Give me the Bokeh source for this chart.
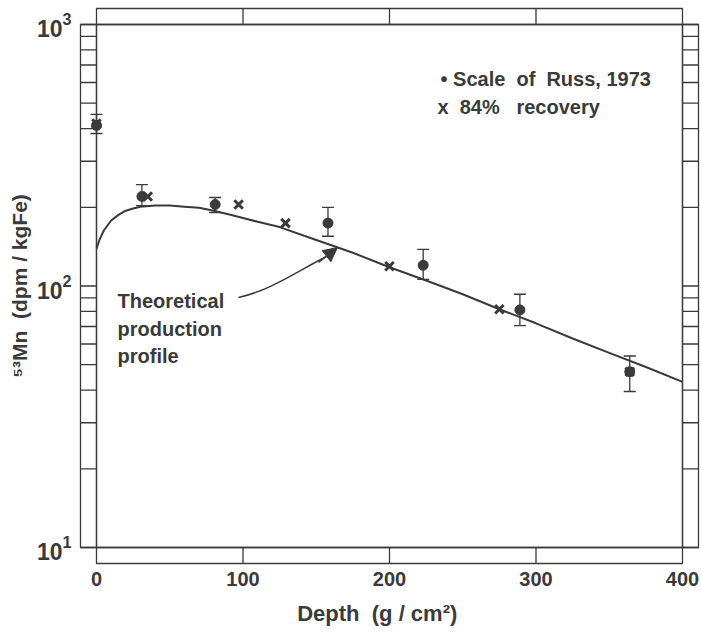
import math
from bokeh.plotting import figure
from bokeh.models import (Range1d, FixedTicker, LogTickFormatter, ColumnDataSource,
                          Whisker, TeeHead, Arrow, NormalHead)
from bokeh.embed import file_html
from bokeh.resources import INLINE
from bokeh.core.properties import value

# ---------------- data ----------------
russ_depth = [0, 31, 81, 158, 223, 289, 364]
russ_mn    = [411, 220, 205, 174, 120, 81, 47]
russ_low   = [383, 203, 191, 155, 106, 70.5, 39.5]
russ_high  = [453, 244, 218, 200, 138, 93, 54]

rec_depth  = [0, 35, 97, 129, 200, 275, 364]
rec_mn     = [418, 220, 205, 174, 119, 81.5, 47]

theory_depth = [0, 2, 5, 10, 15, 20, 25, 30, 40, 50, 60, 70, 80, 90, 100, 110,
                125, 150, 175, 200, 225, 250, 275, 300, 325, 350, 375, 400]
theory_mn    = [139, 150, 163, 178, 187, 194, 198, 201, 203, 203, 201, 199, 194, 188, 182, 176,
                168, 150, 134, 118, 105, 93, 81.5, 72, 63, 55.5, 49, 43]

x_ticks = [0, 100, 200, 300, 400]
y_ticks = [10, 100, 1000]
y_minor = [20, 30, 40, 50, 60, 70, 80, 90, 200, 300, 400, 500, 600, 700, 800, 900]

NB = "\u00a0"
legend_lines = ["\u2022" + NB + "Scale" + NB * 2 + "of" + NB * 2 + "Russ," + NB + "1973",
                "x" + NB * 2 + "84%" + NB * 3 + "recovery"]
note_lines = ["Theoretical", "production", "profile"]
x_title = "Depth" + NB * 2 + "(g" + NB + "/" + NB + "cm\u00b2)" + NB * 4
y_title = "\u2075\u00b3Mn" + NB * 2 + "(dpm" + NB + "/" + NB + "kgFe)"

# ---------------- geometry (pixels) ----------------
W, H = 701, 636
CL, CR, CT, CB = 96, 682, 24, 547     # inner plot box
S, PAD = 16, 2                        # ladder strip width, padding
INK = "#3a3a3a"
FONT = "Liberation Sans"

kx = (x_ticks[-1] - x_ticks[0]) / (CR - CL)
dec = (CB - CT) / (math.log10(y_ticks[-1]) - math.log10(y_ticks[0]))

def px2x(px):
    return x_ticks[0] + (px - CL) * kx

def py2y(py):
    return 10 ** (math.log10(y_ticks[-1]) - (py - CT) / dec)

p = figure(width=W, height=H,
           x_range=Range1d(px2x(CL - S - PAD), px2x(CR + S + PAD)),
           y_range=Range1d(py2y(CB + S + PAD), py2y(CT - S - PAD)),
           y_axis_type="log", toolbar_location=None, output_backend="svg",
           min_border_left=CL - S - PAD, min_border_right=W - (CR + S + PAD),
           min_border_top=CT - S - PAD, min_border_bottom=H - (CB + S + PAD))
p.outline_line_color = None
p.grid.visible = False
p.background_fill_color = "white"
p.border_fill_color = "white"

# axes: labels only (ladder rungs are drawn below)
xa = p.xaxis[0]
xa.ticker = FixedTicker(ticks=x_ticks, minor_ticks=[])
ya = p.yaxis[0]
ya.ticker = FixedTicker(ticks=y_ticks, minor_ticks=[])
ya.formatter = LogTickFormatter()
for ax in (xa, ya):
    ax.axis_line_color = None
    ax.major_tick_line_color = None
    ax.minor_tick_line_color = None
    ax.major_label_text_font = FONT
    ax.major_label_text_font_style = "bold"
    ax.major_label_text_font_size = "20px"
    ax.major_label_text_color = INK
    ax.axis_label_text_font = FONT
    ax.axis_label_text_font_style = "bold"
    ax.axis_label_text_font_size = "22px"
    ax.axis_label_text_color = INK
ya.major_label_text_font_size = "23px"
ya.axis_label_text_font_size = "21px"
xa.major_label_standoff = 0
xa.axis_label = x_title
xa.axis_label_standoff = 12
ya.major_label_standoff = 1
ya.axis_label = y_title
ya.axis_label_standoff = 3

# ladder boxes
x_lo, x_hi = x_ticks[0], x_ticks[-1]
y_lo, y_hi = y_ticks[0], y_ticks[-1]
xl_out, xr_out = px2x(CL - S), px2x(CR + S)
yt_out, yb_out = py2y(CT - S), py2y(CB + S)
p.quad(left=[x_lo, xl_out, x_hi, x_lo, x_lo],
       right=[x_hi, x_lo, xr_out, x_hi, x_hi],
       bottom=[y_lo, y_lo, y_lo, y_hi, yb_out],
       top=[y_hi, y_hi, y_hi, yt_out, y_lo],
       fill_color=None, line_color=INK, line_width=1.3)

# ladder rungs from tick values
yr = y_ticks + y_minor
p.segment(x0=[xl_out] * len(yr), x1=[x_lo] * len(yr), y0=yr, y1=yr,
          line_color=INK, line_width=1.3)
p.segment(x0=[x_hi] * len(yr), x1=[xr_out] * len(yr), y0=yr, y1=yr,
          line_color=INK, line_width=1.3)
xr_in = x_ticks[1:-1]
p.segment(x0=xr_in, x1=xr_in, y0=[y_hi] * len(xr_in), y1=[yt_out] * len(xr_in),
          line_color=INK, line_width=1.3)
p.segment(x0=xr_in, x1=xr_in, y0=[yb_out] * len(xr_in), y1=[y_lo] * len(xr_in),
          line_color=INK, line_width=1.3)

# theoretical curve
p.line(theory_depth, theory_mn, line_color=INK, line_width=2)

# error bars
src = ColumnDataSource(dict(x=russ_depth, y=russ_mn, lo=russ_low, hi=russ_high))
p.add_layout(Whisker(source=src, base="x", upper="hi", lower="lo", dimension="height",
                     line_color=INK, line_width=1.3,
                     upper_head=TeeHead(size=12, line_color=INK, line_width=1.3),
                     lower_head=TeeHead(size=12, line_color=INK, line_width=1.3)))
p.scatter("x", "y", source=src, marker="circle", size=10, fill_color=INK, line_color=INK)
p.scatter(rec_depth, rec_mn, marker="x", size=12, line_color=INK, line_width=3)

# legend (text)
p.text(x=[px2x(440), px2x(437)], y=[py2y(78), py2y(106)], text=legend_lines,
       text_font=value(FONT), text_font_style="bold", text_font_size="20px",
       text_color=INK, text_baseline="middle", text_align="left")

# annotation
p.text(x=[px2x(117)] * 3, y=[py2y(300), py2y(328), py2y(355)], text=note_lines,
       text_font=value(FONT), text_font_style="bold", text_font_size="20px",
       text_color=INK, text_baseline="middle", text_align="left")
p.bezier(x0=[px2x(238)], y0=[py2y(297)], x1=[px2x(326)], y1=[py2y(256)],
         cx0=[px2x(270)], cy0=[py2y(290)], cx1=[px2x(298)], cy1=[py2y(270)],
         line_color=INK, line_width=1.5)
p.add_layout(Arrow(end=NormalHead(size=14, fill_color=INK, line_color=INK),
                   x_start=px2x(318), y_start=py2y(262), x_end=px2x(337), y_end=py2y(247),
                   line_color=INK, line_width=1.5))

open("out.html", "w").write(file_html(p, INLINE))
